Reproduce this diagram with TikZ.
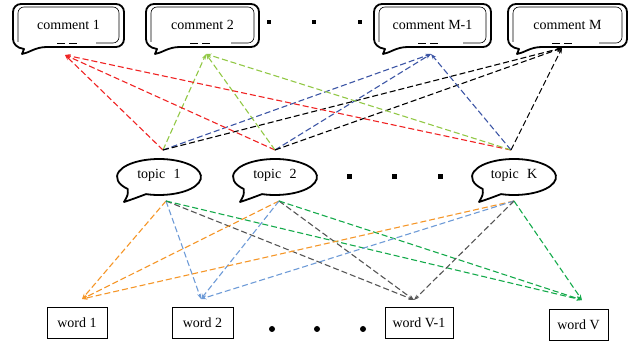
\documentclass[tikz,border=0pt]{standalone}
\usepackage{fontspec}
\setmainfont{Liberation Serif}
\usetikzlibrary{arrows.meta}
\definecolor{cred}{RGB}{240,35,35}
\definecolor{cgreenl}{RGB}{146,200,70}
\definecolor{cblue}{RGB}{60,85,165}
\definecolor{corange}{RGB}{245,150,40}
\definecolor{cblul}{RGB}{110,155,215}
\definecolor{cgray}{RGB}{85,85,85}
\definecolor{cgreen}{RGB}{20,170,75}
\tikzset{
  conn/.style={dash pattern=on 6pt off 3pt, line width=1.1pt, -{Stealth[length=5.5pt,width=4pt]}},
  outl/.style={line width=1.8pt, line join=round},
  inl/.style={line width=0.6pt},
  lbl/.style={font=\fontsize{14}{16}\selectfont, inner sep=0pt},
  wbox/.style={draw, line width=0.7pt, inner sep=0pt, font=\fontsize{14}{16}\selectfont, minimum height=31pt},
}
\newcommand\cmtbox[4]{%
  \draw[outl, fill=white] (#2,306) -- (#2,333) arc[start angle=180,end angle=90,radius=8pt]
    -- ({#3-8},341) arc[start angle=90,end angle=0,radius=8pt]
    -- (#3,306) arc[start angle=0,end angle=-90,radius=8pt]
    -- ({#2+34},298) .. controls ({#2+22},298) and ({#2+16},292) .. ({#2+9},291)
    -- ({#2+11},296) .. controls ({#2+4},297) and (#2,301) .. (#2,306) -- cycle;
  \draw[inl] ({#2+5},303) -- ({#2+5},332) arc[start angle=180,end angle=90,radius=6pt]
    -- ({#3-11},338) arc[start angle=90,end angle=0,radius=6pt]
    -- ({#3-5},308) arc[start angle=0,end angle=-90,radius=6pt] -- ({#3-28},302);
  \draw[inl] ({#2+44},302) -- ({#2+52},302) ({#2+56},302) -- ({#2+64},302);
  \node[lbl] (#1) at ({(#2+#3)/2},320) {#4};
}
\newcommand\topicbub[3]{%
  \draw[outl, fill=white] ({#2+42*cos(252)},{168+18*sin(252)})
    arc[start angle=252,end angle=582,x radius=42pt,y radius=18pt]
    .. controls ({#2-31},150) .. ({#2-35},143)
    .. controls ({#2-26},146) .. ({#2+42*cos(252)},{168+18*sin(252)}) -- cycle;
  \node[lbl] (#1) at (#2,170) {#3};
}
\begin{document}
\begin{tikzpicture}[x=1pt,y=1pt]
\useasboundingbox (0,0) rectangle (634,345);
% connector end points
\coordinate (t1u) at (163,195);
\coordinate (t2u) at (275,195);
\coordinate (tku) at (511,195);
\coordinate (c1p) at (65,290);
\coordinate (c2p) at (206,291);
\coordinate (cm1p) at (431,291);
\coordinate (cmp) at (562,297);
\coordinate (t1d) at (166,144);
\coordinate (t2d) at (279,144);
\coordinate (tkd) at (514,144);
\coordinate (w1p) at (82,46);
\coordinate (w2p) at (201,46);
\coordinate (wv1p) at (414,45);
\coordinate (wvp) at (582,45);
% topic -> comment
\foreach \s in {t1u,t2u,tku}{
  \draw[conn, cred] (\s) -- (c1p);
  \draw[conn, cgreenl] (\s) -- (c2p);
  \draw[conn, cblue] (\s) -- (cm1p);
  \draw[conn, black] (\s) -- (cmp);
}
% topic -> word
\foreach \s in {t1d,t2d,tkd}{
  \draw[conn, corange] (\s) -- (w1p);
  \draw[conn, cblul] (\s) -- (w2p);
  \draw[conn, cgray] (\s) -- (wv1p);
  \draw[conn, cgreen] (\s) -- (wvp);
}
% comments
\cmtbox{c1}{13}{124}{comment 1}
\cmtbox{c2}{146}{259}{comment 2}
\cmtbox{cm1}{374}{491}{comment M-1}
\cmtbox{cm}{508}{627}{comment M}
% topics
\topicbub{tp1}{159}{topic\hspace{0.6em}1}
\topicbub{tp2}{275}{topic\hspace{0.6em}2}
\topicbub{tpk}{514}{topic\hspace{0.6em}K}
% words
\node[wbox, minimum width=60pt] (w1) at (77,22.5) {word 1};
\node[wbox, minimum width=61pt] (w2) at (202.5,22.5) {word 2};
\node[wbox, minimum width=68pt] (wv1) at (419,22) {word V-1};
\node[wbox, minimum width=59pt] (wv) at (578.5,20) {word V};
% dots
\foreach \x in {269,314,360}{\fill (\x-2,321) rectangle (\x+2,325);}
\foreach \x in {349,394,440}{\fill (\x-2.5,165.5) rectangle (\x+2.5,170.5);}
\foreach \x in {272,317,363}{\fill (\x,16) circle (3pt);}
\end{tikzpicture}
\end{document}
